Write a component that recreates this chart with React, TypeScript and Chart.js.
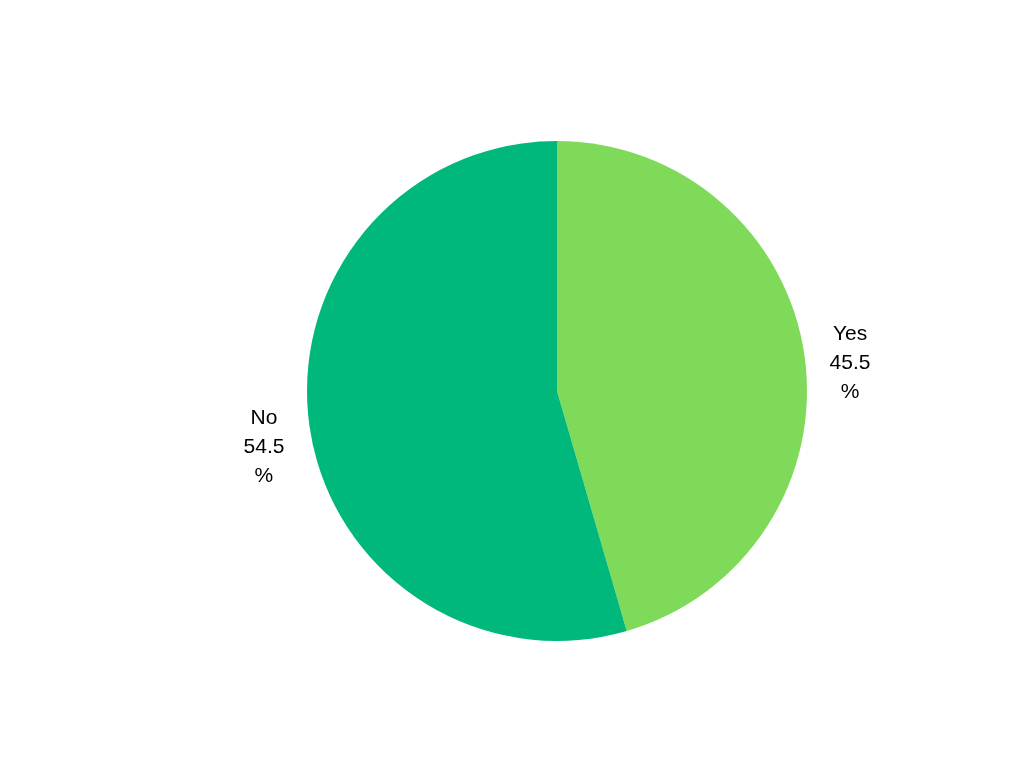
import React, { useEffect, useRef } from "react";
import { Chart, registerables } from "chart.js";

Chart.register(...registerables);

const labels = ["Yes", "No"];
const values = [45.5, 54.5];
const colors = ["#80DA5A", "#00B87C"];

const labelPlugin = {
  id: "outerLabels",
  afterDatasetsDraw(chart: any) {
    const ctx = chart.ctx;
    const meta = chart.getDatasetMeta(0);
    ctx.save();
    ctx.font = "21px 'Liberation Sans', Arial, sans-serif";
    ctx.fillStyle = "#000";
    ctx.textAlign = "center";
    ctx.textBaseline = "middle";
    meta.data.forEach((arc: any, i: number) => {
      const mid = (arc.startAngle + arc.endAngle) / 2;
      const r = arc.outerRadius + 46;
      const x = arc.x + Math.cos(mid) * r;
      const y = arc.y + Math.sin(mid) * r + 14;
      const lines = [labels[i], String(values[i]), "%"];
      const lh = 29;
      lines.forEach((t, k) => {
        ctx.fillText(t, x, y + (k - 1) * lh);
      });
    });
    ctx.restore();
  },
};

export default function App() {
  const ref = useRef<HTMLCanvasElement>(null);
  useEffect(() => {
    if (!ref.current) return;
    const chart = new Chart(ref.current, {
      type: "pie",
      data: {
        labels,
        datasets: [
          {
            data: values,
            backgroundColor: colors,
            borderWidth: 0,
          },
        ],
      },
      options: {
        animation: false,
        responsive: true,
        maintainAspectRatio: false,
        layout: { padding: { top: 141, bottom: 127, left: 207, right: 117 } },
        plugins: {
          legend: { display: false },
          tooltip: { enabled: false },
        },
      },
      plugins: [labelPlugin],
    });
    return () => chart.destroy();
  }, []);
  return (
    <div style={{ position: "fixed", left: 0, top: 0, width: 1024, height: 768, background: "#fff" }}>
      <canvas ref={ref} />
    </div>
  );
}
